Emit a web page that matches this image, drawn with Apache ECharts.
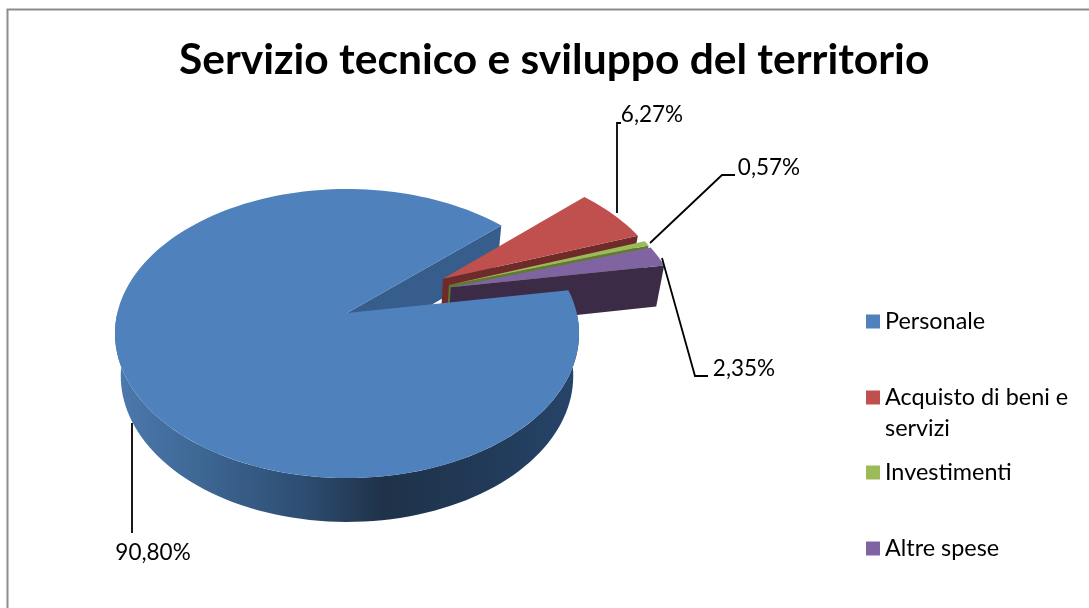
<!DOCTYPE html>
<html><head><meta charset="utf-8">
<style>html,body{margin:0;padding:0;background:#fff}#c{width:1089px;height:608px}</style>
<script src="https://cdn.jsdelivr.net/npm/echarts@6/dist/echarts.min.js"></script>
</head><body><div id="c"></div>
<script>
const titleText = 'Servizio tecnico e sviluppo del territorio';
const categories = ['Personale', '\nAcquisto di beni e\nservizi', 'Investimenti', 'Altre spese'];
const seriesNames = ['Personale', 'Acquisto di beni e servizi', 'Investimenti', 'Altre spese'];
const values = [90.80, 6.27, 0.57, 2.35];

const topColors = ['#4f81bd', '#c0504d', '#9bbb59', '#8064a2'];
const wallColors = ['#375d8c', '#6e2b29', '#5f7a31', '#3b2b47'];
const explodeDeg = [null, 60, 66, 68];
const explodeAmt = [0, 0.5, 0.5, 0.5];
const firstAngle = 80.5;
const view = { cx: 347, cy: 313, A: 229.7, B: 141.6, k: 0.142, shrink: 0.975, depth: 42, depthSlope: 6 };
const legendTops = [306, 351, 457, 533];
const leaders = [
  { pts: [[132, 423], [132, 533]], label: [153, 553] },
  { pts: [[617, 213], [617, 123], [621, 123]], label: [652, 115] },
  { pts: [[650, 243], [722, 175], [735, 175]], label: [769, 168] },
  { pts: [[662, 258], [695, 376], [708, 376]], label: [744, 369] }
];

const total = values.reduce((a, b) => a + b, 0);
const rad = d => d * Math.PI / 180;
const starts = [];
values.reduce((acc, v, i) => { starts[i] = acc; return acc + v / total * 360; }, firstAngle);

function project(u, v, bottom) {
  const w = 1 + view.k * v;
  let x = view.A * u / w, y = -view.B * v / w;
  if (bottom) {
    x *= view.shrink; y = y * view.shrink + view.depth - view.depthSlope * v;
  }
  return [view.cx + x, view.cy + y];
}
function sliceFrame(i) {
  const e = explodeAmt[i], d = explodeDeg[i] === null ? 0 : rad(explodeDeg[i]);
  return [e * Math.sin(d), e * Math.cos(d)];
}
function rimPoint(i, deg, bottom) {
  const o = sliceFrame(i);
  return project(o[0] + Math.sin(rad(deg)), o[1] + Math.cos(rad(deg)), bottom);
}
function arc(i, a, b, bottom) {
  const pts = [], n = Math.max(2, Math.ceil(Math.abs(b - a) / 2));
  for (let j = 0; j <= n; j++) pts.push(rimPoint(i, a + (b - a) * j / n, bottom));
  return pts;
}
function apex(i, bottom) {
  const o = sliceFrame(i);
  return project(o[0], o[1], bottom);
}
const sideGradient = new echarts.graphic.LinearGradient(0, 0, 1, 0, [
  { offset: 0, color: '#4d79ae' },
  { offset: 0.2, color: '#3c6592' },
  { offset: 0.4, color: '#2e4e73' },
  { offset: 0.58, color: '#1f3249' },
  { offset: 0.8, color: '#213a58' },
  { offset: 1, color: '#27456a' }
]);

function renderSlice(params, api) {
  const i = params.seriesIndex;
  const share = api.value(0) / total * 360;
  const a = starts[i], b = a + share;
  const children = [];
  const topZ = i === 0 ? 10 : i;
  children.push({
    type: 'polygon', z2: i === 0 ? 0 : i,
    shape: { points: [apex(i, false), rimPoint(i, b, false), rimPoint(i, b, true), apex(i, true)] },
    style: { fill: wallColors[i] }
  });
  const fa = Math.max(a, 80), fb = Math.min(b, 270);
  if (fb > fa) {
    children.push({
      type: 'polygon', z2: topZ,
      shape: { points: arc(i, fa, fb, false).concat(arc(i, fb, fa, true)) },
      style: { fill: sideGradient }
    });
  }
  children.push({
    type: 'polygon', z2: topZ,
    shape: { points: [apex(i, false)].concat(arc(i, a, b, false)) },
    style: { fill: topColors[i] }
  });
  const l = leaders[i];
  children.push({
    type: 'polyline', z2: 20,
    shape: { points: l.pts },
    style: { stroke: '#000', lineWidth: 1.8, fill: null }
  });
  children.push({
    type: 'text', z2: 20,
    x: l.label[0], y: l.label[1],
    style: {
      text: api.value(0).toFixed(2).replace('.', ',') + '%',
      fill: '#000', font: '22.5px Lato', align: 'center', verticalAlign: 'middle'
    }
  });
  return { type: 'group', children };
}

const chart = echarts.init(document.getElementById('c'));
chart.setOption({
  animation: false,
  backgroundColor: '#fff',
  title: {
    text: titleText, left: 174, top: 34,
    textStyle: { fontFamily: 'Lato', fontWeight: 'bold', fontSize: 42.5, color: '#000' }
  },
  legend: seriesNames.map((n, i) => ({
    data: [n], left: 866, top: legendTops[i], orient: 'vertical',
    icon: 'rect', itemWidth: 14, itemHeight: 14, selectedMode: false,
    padding: 0,
    formatter: () => categories[i],
    textStyle: { fontFamily: 'Lato', fontSize: 23.4, color: '#000', lineHeight: 31 }
  })),
  graphic: [{
    type: 'rect', silent: true, z: -1,
    shape: { x: 7.5, y: 9.5, width: 1300, height: 900 },
    style: { fill: '#fff', stroke: '#8c8c8c', lineWidth: 2 }
  }],
  series: seriesNames.map((n, i) => ({
    type: 'custom', name: n, coordinateSystem: 'none',
    itemStyle: { color: topColors[i] },
    data: [[values[i]]],
    renderItem: renderSlice
  }))
});
</script></body></html>
